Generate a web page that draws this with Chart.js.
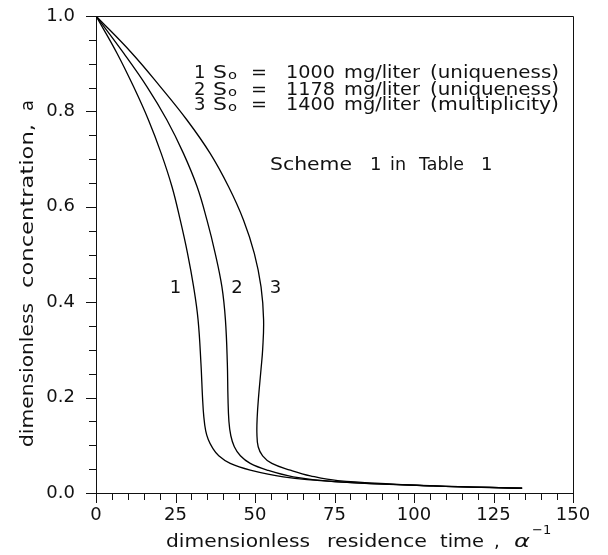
<!DOCTYPE html>
<html>
<head>
<meta charset="utf-8">
<script src="https://cdn.jsdelivr.net/npm/chart.js@4/dist/chart.umd.min.js"></script>
<style>
  body { margin: 0; background: #fff; }
</style>
</head>
<body>
<canvas id="grafico" width="608" height="555"></canvas>
<script>
// dados (tempo de residência adimensional x concentração adimensional)
var curva1T = [0, 6.6, 11.8, 16.5, 20.5, 23.9, 26.5, 28.8, 30.7, 32.1, 33.0, 33.5, 33.9, 34.5, 35.3, 36.6, 38.6, 42.2, 48.5, 58.9, 75, 106, 134]
var curva1A = [1.0, 0.922, 0.852, 0.782, 0.712, 0.642, 0.572, 0.502, 0.432, 0.363, 0.272, 0.2, 0.16, 0.13, 0.112, 0.095, 0.078, 0.062, 0.048, 0.034, 0.024, 0.015, 0.01]

var curva2T = [0, 8.7, 16.0, 22.3, 27.5, 31.8, 34.9, 37.5, 39.6, 40.7, 41.3, 41.5, 41.8, 42.4, 43.5, 45.4, 48.5, 53.8, 62, 75, 106, 134]
var curva2A = [1.0, 0.922, 0.852, 0.782, 0.712, 0.642, 0.572, 0.502, 0.432, 0.363, 0.272, 0.2, 0.15, 0.12, 0.097, 0.078, 0.062, 0.048, 0.034, 0.024, 0.015, 0.01]

var curva3T = [0, 11.3, 20.2, 28.6, 35.9, 41.7, 46.4, 49.8, 51.9, 52.7, 52.4, 51.9, 51.1, 50.7, 50.6, 51.0, 52.4, 55.3, 61.1, 67.4, 76, 106, 134]
var curva3A = [1.0, 0.922, 0.852, 0.782, 0.712, 0.642, 0.572, 0.502, 0.432, 0.363, 0.3, 0.26, 0.2, 0.16, 0.125, 0.097, 0.078, 0.062, 0.048, 0.036, 0.026, 0.015, 0.01]

var xTicks = [0, 25, 50, 75, 100, 125, 150]
var yTicks = [0.0, 0.2, 0.4, 0.6, 0.8, 1.0]
var nomesCurvas = ['1', '2', '3']
var concentracoes = ['1000', '1178', '1400']
var regimes = ['(uniqueness)', '(uniqueness)', '(multiplicity)']

function pontos(ts, as) {
  return ts.map(function(t, i) { return { x: t, y: as[i] } })
}

var fonte = '"DejaVu Sans", sans-serif'

// escreve um texto esticado na horizontal até caber entre x0 e x1
function textoAjustado(ctx, txt, x0, x1, y) {
  var w = ctx.measureText(txt).width
  ctx.save()
  ctx.translate(x0, y)
  ctx.scale((x1 - x0) / w, 1)
  ctx.fillText(txt, 0, 0)
  ctx.restore()
}

var extras = {
  id: 'extras',
  afterDraw: function(chart) {
    var ctx = chart.ctx
    var xs = chart.scales.x
    var ys = chart.scales.y
    var area = chart.chartArea
    ctx.save()
    ctx.strokeStyle = '#111'
    ctx.lineWidth = 1

    // moldura de cima e da direita
    ctx.beginPath()
    ctx.moveTo(area.left, area.top + 0.5)
    ctx.lineTo(area.right + 0.5, area.top + 0.5)
    ctx.lineTo(area.right + 0.5, area.bottom)
    ctx.stroke()

    // marcas do eixo x (maiores a cada 25, menores a cada 5)
    ctx.beginPath()
    for (var v = xTicks[0]; v <= xTicks[xTicks.length - 1]; v += 5) {
      var px = Math.round(xs.getPixelForValue(v)) + 0.5
      var len = (v % 25 === 0) ? 10 : 7
      ctx.moveTo(px, area.bottom)
      ctx.lineTo(px, area.bottom + len)
    }
    // marcas do eixo y (maiores a cada 0.2, menores a cada 0.05)
    for (var i = 0; i <= 20; i++) {
      var py = Math.round(ys.getPixelForValue(i * 0.05)) + 0.5
      var l = (i % 4 === 0) ? 10 : 7
      ctx.moveTo(area.left - l, py)
      ctx.lineTo(area.left, py)
    }
    ctx.stroke()

    ctx.fillStyle = '#111'
    ctx.textBaseline = 'alphabetic'
    ctx.textAlign = 'left'

    // legenda em texto
    var bases = [78, 94.5, 110]
    for (var k = 0; k < 3; k++) {
      var b = bases[k]
      ctx.font = '18px ' + fonte
      ctx.fillText(nomesCurvas[k], 194, b)
      textoAjustado(ctx, 'S', 213, 227, b)
      ctx.font = '13px ' + fonte
      textoAjustado(ctx, 'o', 228, 237, b + 1)
      ctx.font = '18px ' + fonte
      textoAjustado(ctx, '=', 251, 267, b)
      textoAjustado(ctx, concentracoes[k], 286, 335, b)
      textoAjustado(ctx, 'mg/liter', 344, 420, b)
      textoAjustado(ctx, regimes[k], 430, 559, b)
    }
    textoAjustado(ctx, 'Scheme', 270, 352, 170)
    ctx.fillText('1', 370, 170)
    textoAjustado(ctx, 'in', 390, 406, 170)
    textoAjustado(ctx, 'Table', 419, 464, 170)
    ctx.fillText('1', 481, 170)

    // rótulos das curvas
    ctx.textAlign = 'center'
    ctx.textBaseline = 'middle'
    var rx = [25, 44.3, 56.4]
    for (var c = 0; c < 3; c++) {
      ctx.fillText(nomesCurvas[c], xs.getPixelForValue(rx[c]), ys.getPixelForValue(0.43))
    }

    // título do eixo x
    ctx.textAlign = 'left'
    ctx.textBaseline = 'alphabetic'
    ctx.font = '18px ' + fonte
    textoAjustado(ctx, 'dimensionless', 166, 310, 547)
    textoAjustado(ctx, 'residence', 327, 427, 547)
    textoAjustado(ctx, 'time', 440, 484, 547)
    ctx.fillText(',', 494, 547)
    ctx.font = 'italic 18px ' + fonte
    textoAjustado(ctx, 'α', 514, 530, 547)
    ctx.font = '13px ' + fonte
    ctx.fillText('−1', 532, 534)

    // título do eixo y (girado)
    ctx.translate(33, 0)
    ctx.rotate(-Math.PI / 2)
    ctx.font = '18px ' + fonte
    textoAjustado(ctx, 'dimensionless', -447, -303, 0)
    textoAjustado(ctx, 'concentration,', -288, -124, 0)
    textoAjustado(ctx, 'a', -111, -100, 0)
    ctx.restore()
  }
}

var estiloLinha = {
  showLine: true,
  borderColor: '#000',
  backgroundColor: '#000',
  borderWidth: 1.3,
  pointRadius: 0,
  tension: 0.4,
  fill: false
}

var ctx = document.getElementById('grafico').getContext('2d')
var grafico = new Chart(ctx, {
  type: 'scatter',
  data: {
    datasets: [
      Object.assign({ label: nomesCurvas[0], data: pontos(curva1T, curva1A) }, estiloLinha),
      Object.assign({ label: nomesCurvas[1], data: pontos(curva2T, curva2A) }, estiloLinha),
      Object.assign({ label: nomesCurvas[2], data: pontos(curva3T, curva3A) }, estiloLinha)
    ]
  },
  options: {
    responsive: false,
    animation: false,
    devicePixelRatio: 1,
    layout: { padding: { top: 16, right: 35, left: 0, bottom: 0 } },
    plugins: {
      legend: { display: false },
      tooltip: { enabled: false }
    },
    scales: {
      x: {
        type: 'linear',
        min: xTicks[0],
        max: xTicks[xTicks.length - 1],
        afterFit: function(scale) { scale.height = 62 },
        afterBuildTicks: function(scale) { scale.ticks = xTicks.map(function(v) { return { value: v } }) },
        grid: { display: false, drawTicks: false },
        border: { display: true, color: '#111', width: 1 },
        ticks: {
          color: '#111',
          padding: 12,
          maxRotation: 0,
          font: { family: fonte, size: 18 }
        }
      },
      y: {
        min: yTicks[0],
        max: yTicks[yTicks.length - 1],
        afterFit: function(scale) {
          scale.width = 96
          scale.paddingTop = 0
          scale.paddingBottom = 0
        },
        afterBuildTicks: function(scale) { scale.ticks = yTicks.map(function(v) { return { value: v } }) },
        grid: { display: false, drawTicks: false },
        border: { display: true, color: '#111', width: 1 },
        ticks: {
          color: '#111',
          padding: 21,
          font: { family: fonte, size: 18 },
          callback: function(v) { return v.toFixed(1) }
        }
      }
    }
  },
  plugins: [extras]
})
</script>
</body>
</html>
